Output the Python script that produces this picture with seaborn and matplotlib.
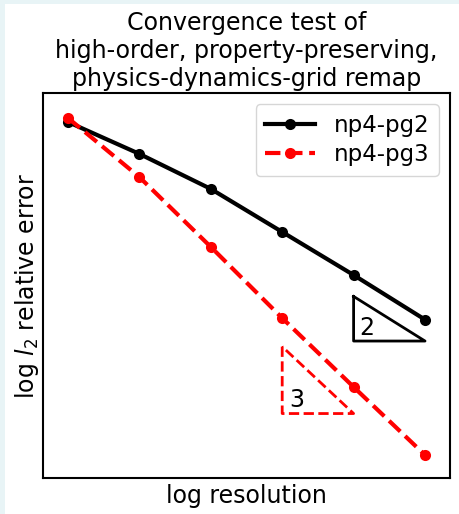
import numpy as np
import pandas as pd
import seaborn as sns
import matplotlib.pyplot as plt
from matplotlib.patches import Rectangle

# log2 resolution steps and log2 relative l2 errors
log_res = [1, 2, 3, 4, 5, 6]
err_pg2 = [-0.18, -1.61, -3.18, -5.11, -7.04, -9.04]
err_pg3 = [0.0, -2.65, -5.78, -8.97, -12.06, -15.11]
series_labels = ["np4-pg2", "np4-pg3"]

# slope triangles: (x0, x1, y_top, y_bottom, label)
tri_pg2 = (5, 6, -8.0, -10.0, "2")
tri_pg3 = (4, 5, -10.25, -13.25, "3")

df = pd.DataFrame({
    "log_res": log_res * 2,
    "err": err_pg2 + err_pg3,
    "method": [series_labels[0]] * len(log_res) + [series_labels[1]] * len(log_res),
})

fig = plt.figure(figsize=(4.6, 5.14), dpi=100)
fig.patch.set_facecolor("white")
# thin light strips of the screenshot on the left and top
strip = "#e8f4f6"
fig.patches.append(Rectangle((0, 0), 5 / 460, 1, transform=fig.transFigure,
                             facecolor=strip, edgecolor="none"))
fig.patches.append(Rectangle((0, 1 - 4 / 514), 1, 4 / 514, transform=fig.transFigure,
                             facecolor=strip, edgecolor="none"))

ax = fig.add_axes([43.5 / 460, 1 - 478 / 514, (450 - 43.5) / 460, (478 - 93) / 514])

sns.lineplot(data=df[df["method"] == series_labels[0]], x="log_res", y="err", ax=ax,
             color="black", lw=3, marker="o", markersize=8, markeredgewidth=0,
             label=series_labels[0])
sns.lineplot(data=df[df["method"] == series_labels[1]], x="log_res", y="err", ax=ax,
             color="red", lw=3, ls="--", dashes=(3, 1.6), marker="o", markersize=8,
             markeredgewidth=0, label=series_labels[1])

# slope-2 triangle (solid black)
x0, x1, yt, yb, lab = tri_pg2
ax.plot([x0, x0, x1, x0], [yt, yb, yb, yt], color="black", lw=2)
ax.text(x0 + 0.19, yb + 0.6, lab, fontsize=17, ha="center", va="center")

# slope-3 triangle (dashed red)
x0, x1, yt, yb, lab = tri_pg3
ax.plot([x0, x0, x1, x0], [yt, yb, yb, yt], color="red", lw=2, ls="--")
ax.text(x0 + 0.2, yb + 0.6, lab, fontsize=17, ha="center", va="center")

ax.set_xlim(0.657, 6.35)
ax.set_ylim(-16.14, 1.12)
ax.set_xticks([])
ax.set_yticks([])
for sp in ax.spines.values():
    sp.set_linewidth(1.5)

ax.set_xlabel("log resolution", fontsize=17)
ax.set_ylabel("log $l_2$ relative error", fontsize=17, labelpad=2)
ax.set_title("Convergence test of\nhigh-order, property-preserving,\nphysics-dynamics-grid remap",
             fontsize=17.1, pad=5)

ax.legend(loc="upper right", fontsize=16.5, handlelength=2.2, borderpad=0.4,
          labelspacing=0.3)

fig.savefig("out.png", dpi=100, facecolor=fig.get_facecolor())
